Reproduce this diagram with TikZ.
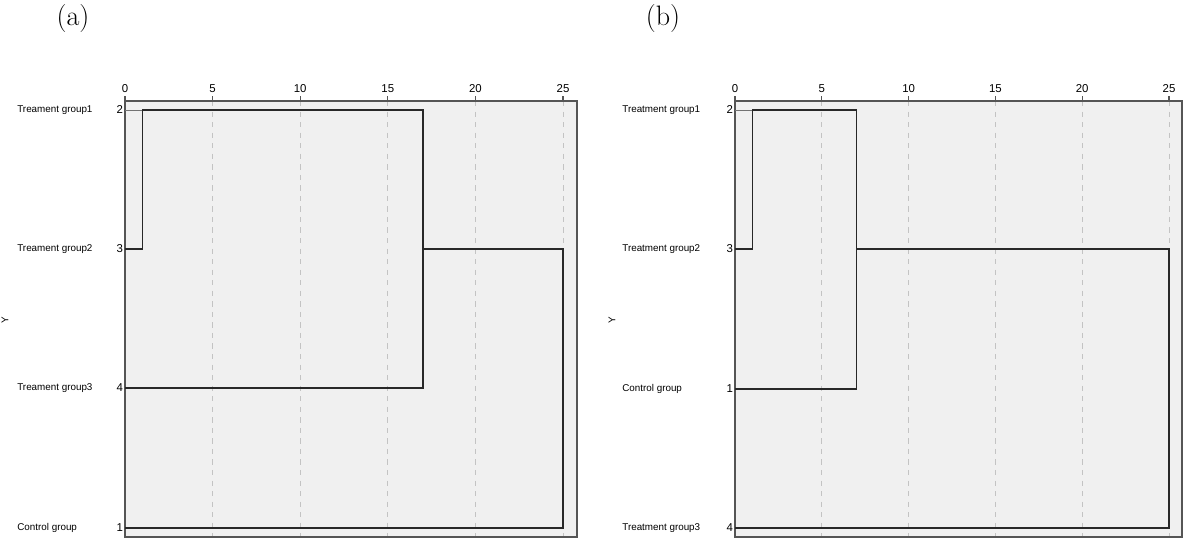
\documentclass[tikz,border=0pt]{standalone}
\usepackage{fontspec}
\newfontfamily\arialfont{Liberation Sans}
\usetikzlibrary{positioning}
\definecolor{plotbg}{RGB}{240,240,240}
\definecolor{framegray}{RGB}{85,85,85}
\definecolor{gridgray}{RGB}{195,195,195}
\definecolor{linkgray}{RGB}{40,40,40}

\begin{document}
\begin{tikzpicture}[x=0.02cm,y=-0.02cm,
  grp/.style={font=\arialfont\fontsize{5.6}{6}\selectfont,anchor=west,inner sep=0pt},
  leafnum/.style={font=\arialfont\fontsize{6.5}{7}\selectfont,anchor=east,inner sep=1pt},
  ticklab/.style={font=\arialfont\fontsize{6.5}{7}\selectfont,anchor=south,inner sep=1pt},
  axlab/.style={font=\arialfont\fontsize{5.6}{6}\selectfont,rotate=90,inner sep=0pt},
  panellab/.style={font=\fontsize{16}{18}\selectfont,inner sep=0pt},
  link/.style={draw=linkgray,line width=0.8pt},
  thinlink/.style={draw=black!55,line width=0.4pt}]
\useasboundingbox (0,0) rectangle (1200,550);

% panel labels
\node[panellab] (lab-a) at (73,18) {(a)};
\node[panellab] (lab-b) at (663,18) {(b)};

% ---- panel (a) ----
\fill[plotbg] (125,101) rectangle (577,537);
\foreach \v in {5,10,...,25}
  \draw[gridgray,dashed] ({125+17.52*\v},101) -- ({125+17.52*\v},537);
\draw[framegray,line width=0.6pt] (125,101) rectangle (577,537);
\foreach \v in {0,5,...,25}{
  \draw[framegray,line width=0.6pt] ({125+17.52*\v},101) -- ++(0,-5);
  \node[ticklab] (a-tick\v) at ({125+17.52*\v},95) {\v};
}
\node[axlab] (a-y) at (5,320) {Y};
\node[grp] (a-g2) at (17,110) {Treament group1};
\node[grp] (a-g3) at (17,249) {Treament group2};
\node[grp] (a-g4) at (17,388) {Treament group3};
\node[grp] (a-g1) at (17,528) {Control group};
\node[leafnum] (a-n2) at (125,110) {2};
\node[leafnum] (a-n3) at (125,249) {3};
\node[leafnum] (a-n4) at (125,388) {4};
\node[leafnum] (a-n1) at (125,528) {1};

\coordinate (a-l2) at (125,110);
\coordinate (a-l3) at (125,249);
\coordinate (a-l4) at (125,388);
\coordinate (a-l1) at (125,528);
\coordinate (a-j23t) at (142.5,110);
\coordinate (a-j23b) at (142.5,249);
\coordinate (a-j4t) at (422.8,110);
\coordinate (a-j4m) at (422.8,249);
\coordinate (a-j4b) at (422.8,388);
\coordinate (a-j1t) at (563,249);
\coordinate (a-j1b) at (563,528);
\draw[thinlink] (a-l2) -- (a-j23t);
\draw[link] (a-l3) -- (a-j23b) -- (a-j23t) -- (a-j4t) -- (a-j4b) -- (a-l4);
\draw[link] (a-j4m) -- (a-j1t) -- (a-j1b) -- (a-l1);

% ---- panel (b) ----
\fill[plotbg] (735,101) rectangle (1182,537);
\foreach \v in {5,10,...,25}
  \draw[gridgray,dashed] ({735+17.36*\v},101) -- ({735+17.36*\v},537);
\draw[framegray,line width=0.6pt] (735,101) rectangle (1182,537);
\foreach \v in {0,5,...,25}{
  \draw[framegray,line width=0.6pt] ({735+17.36*\v},101) -- ++(0,-5);
  \node[ticklab] (b-tick\v) at ({735+17.36*\v},95) {\v};
}
\node[axlab] (b-y) at (612,320) {Y};
\node[grp] (b-g2) at (622,110) {Treatment group1};
\node[grp] (b-g3) at (622,249) {Treatment group2};
\node[grp] (b-g1) at (622,389) {Control group};
\node[grp] (b-g4) at (622,528) {Treatment group3};
\node[leafnum] (b-n2) at (735,110) {2};
\node[leafnum] (b-n3) at (735,249) {3};
\node[leafnum] (b-n1) at (735,389) {1};
\node[leafnum] (b-n4) at (735,528) {4};

\coordinate (b-l2) at (735,110);
\coordinate (b-l3) at (735,249);
\coordinate (b-l1) at (735,389);
\coordinate (b-l4) at (735,528);
\coordinate (b-j23t) at (752.4,110);
\coordinate (b-j23b) at (752.4,249);
\coordinate (b-j1t) at (856.5,110);
\coordinate (b-j1m) at (856.5,249);
\coordinate (b-j1b) at (856.5,389);
\coordinate (b-j4t) at (1169,249);
\coordinate (b-j4b) at (1169,528);
\draw[thinlink] (b-l2) -- (b-j23t);
\draw[link] (b-l3) -- (b-j23b) -- (b-j23t) -- (b-j1t) -- (b-j1b) -- (b-l1);
\draw[link] (b-j1m) -- (b-j4t) -- (b-j4b) -- (b-l4);
\end{tikzpicture}
\end{document}
